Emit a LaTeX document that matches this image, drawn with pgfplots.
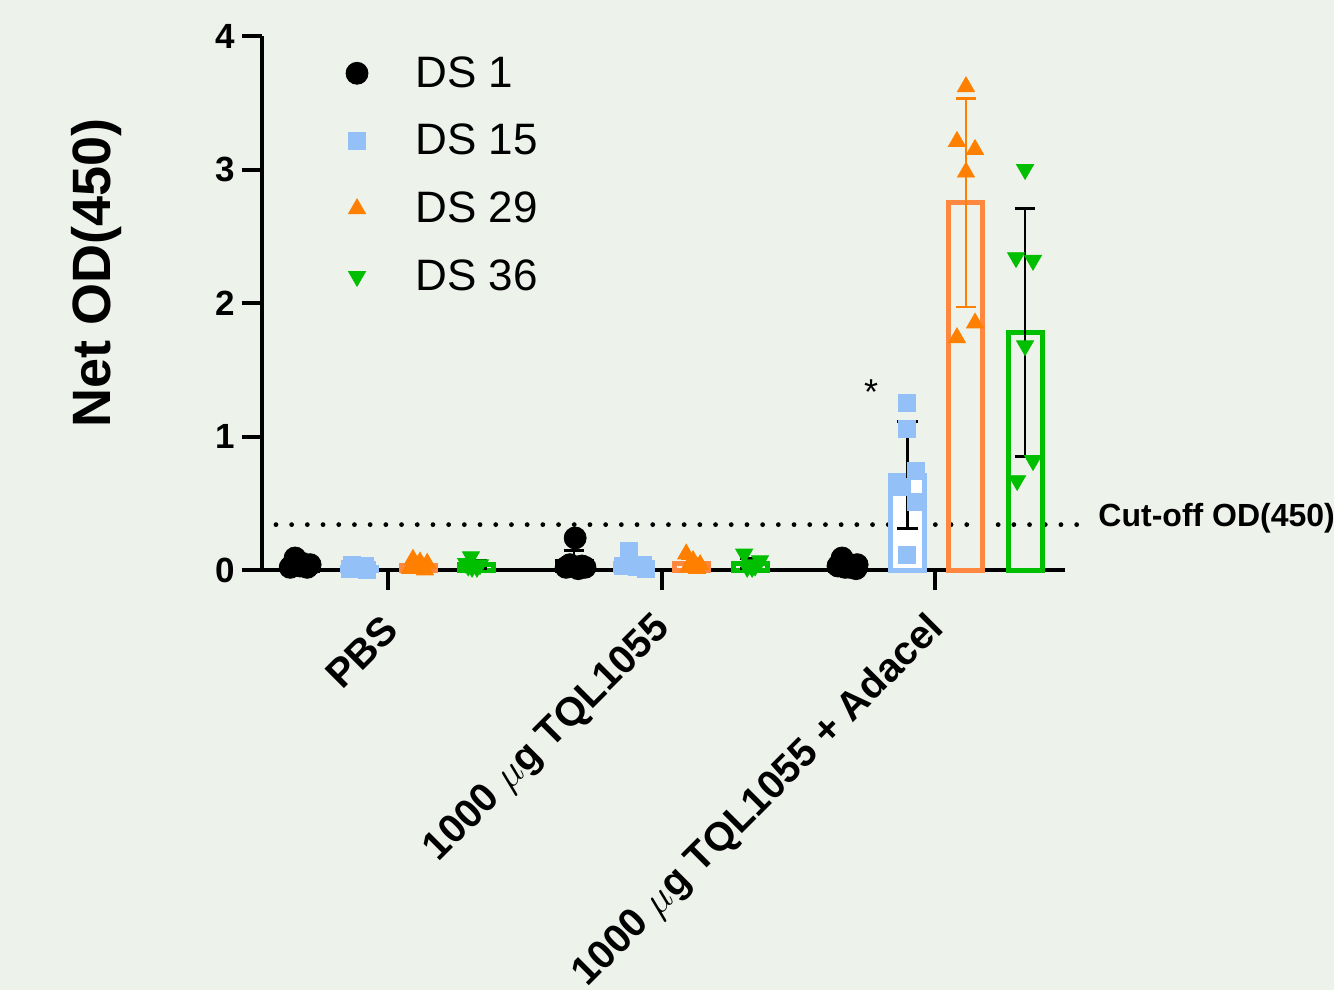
\documentclass[border=0pt]{standalone}
\usepackage{fontspec}
\setmainfont{Liberation Sans}
\usepackage{pgfplots}
\pgfplotsset{compat=1.18}

\definecolor{bgcol}{RGB}{237,242,234}
\definecolor{dsblue}{RGB}{148,192,248}
\definecolor{dsorange}{RGB}{255,128,0}
\definecolor{barorange}{RGB}{255,136,64}
\definecolor{dsgreen}{RGB}{0,190,0}

\pgfplotsset{
  errs/.style={
    error bars/.cd, y dir=both, y explicit,
    error bar style={line width=1.4pt, #1},
    error mark options={rotate=90, line width=1.4pt, mark size=5.2pt, #1}
  },
  barstyle/.style={ybar, bar shift=0pt, bar width=17pt, line width=2.5pt, forget plot}
}

\begin{document}
\begin{tikzpicture}
\fill[bgcol] (-131pt,-210pt) rectangle (536pt,285pt);
\useasboundingbox (-131pt,-210pt) rectangle (536pt,285pt);
\begin{axis}[
  at={(0pt,0pt)}, anchor=south west,
  scale only axis, width=401.5pt, height=267pt,
  xmin=0.539, xmax=3.475, ymin=0, ymax=4,
  clip=false,
  axis lines=left,
  axis line style={-, line width=2.3pt},
  tick align=outside,
  major tick length=10pt,
  tick style={line width=2pt, black},
  xtick={1,2,3},
  xticklabels={PBS, 1000 $\mu$g TQL1055, 1000 $\mu$g TQL1055 + Adacel},
  xticklabel style={xshift=4pt, yshift=-14pt, rotate=45, anchor=east, font=\bfseries\fontsize{20}{24}\selectfont},
  ytick={0,1,2,3,4},
  yticklabels={0,1,2,3,4},
  yticklabel style={font=\bfseries\fontsize{17.5}{21}\selectfont},
  ylabel={Net OD(450)},
  every axis y label/.style={at={(axis description cs:-0.2055,0.556)}, rotate=90, anchor=center, font=\bfseries\fontsize{27}{32}\selectfont},
  legend style={draw=none, fill=none, at={(rel axis cs:0.0775,0.9775)}, anchor=north west,
    font=\fontsize{22}{26}\selectfont, row sep=13pt},
  legend cell align=left,
  legend image code/.code={\path (0pt,0pt) (40pt,0pt); \draw[#1] plot coordinates {(13pt,0pt)};},
]
% cut-off line
\addplot[black, line width=2.4pt, dash pattern=on 0pt off 7.85pt, line cap=round, forget plot]
  coordinates {(0.59,0.34) (3.523,0.34)};

% bars: mean +- SD
\addplot[barstyle, draw=black, fill=none, errs=black] coordinates {
  (0.68,0.042) +- (0,0.026) (1.68,0.06) +- (0,0.089) (2.68,0.035) +- (0,0.029)};
\addplot[barstyle, draw=dsblue, fill=white, errs=black] coordinates {
  (0.895,0.02) +- (0,0.014) (1.895,0.045) +- (0,0.047) (2.90,0.71) +- (0,0.40)};
\addplot[barstyle, draw=barorange, fill=none, errs=dsorange] coordinates {
  (1.11,0.037) +- (0,0.03) (2.11,0.048) +- (0,0.04) (3.113,2.75) +- (0,0.78)};
\addplot[barstyle, draw=dsgreen, fill=none, errs=black] coordinates {
  (1.325,0.043) +- (0,0.03) (2.325,0.05) +- (0,0.038) (3.329,1.78) +- (0,0.93)};

% individual points
\addplot[only marks, mark=*, mark size=5.5pt, color=black, mark options={fill=black, draw=none}] coordinates {
  (0.660,0.09) (0.715,0.04) (0.642,0.02) (0.704,0.02) (0.678,0.03) (0.686,0.05)
  (1.684,0.24) (1.665,0.04) (1.709,0.03) (1.651,0.02) (1.695,0.01) (1.720,0.02)
  (2.660,0.09) (2.715,0.04) (2.645,0.03) (2.689,0.02) (2.711,0.01) (2.671,0.02)};
\addlegendentry{DS 1}
\addplot[only marks, mark=square*, mark size=4.25pt, color=dsblue, mark options={fill=dsblue, draw=none}] coordinates {
  (0.868,0.04) (0.861,0.01) (0.916,0.03) (0.923,0.00) (0.890,0.02) (0.898,0.02)
  (1.881,0.14) (1.932,0.04) (1.859,0.03) (1.910,0.02) (1.943,0.01) (1.885,0.03)
  (2.898,1.25) (2.898,1.06) (2.931,0.74) (2.879,0.62) (2.931,0.51) (2.898,0.11)};
\addlegendentry{DS 15}
\addplot[only marks, mark=triangle*, mark size=4.9pt, color=dsorange, mark options={fill=dsorange, draw=none}] coordinates {
  (1.091,0.08) (1.117,0.06) (1.143,0.05) (1.110,0.02) (1.080,0.01) (1.135,0.00)
  (2.090,0.12) (2.115,0.07) (2.141,0.04) (2.097,0.02) (2.130,0.01) (2.112,0.03)
  (3.113,3.62) (3.080,3.21) (3.146,3.15) (3.113,2.98) (3.146,1.85) (3.080,1.74)};
\addlegendentry{DS 29}
\addplot[only marks, mark=triangle*, mark size=4.9pt, color=dsgreen, mark options={fill=dsgreen, draw=none, rotate=180}] coordinates {
  (1.303,0.10) (1.285,0.05) (1.336,0.04) (1.307,0.02) (1.325,0.02) (1.293,0.03)
  (2.302,0.12) (2.360,0.07) (2.324,0.04) (2.342,0.03) (2.313,0.02) (2.331,0.02)
  (3.329,3.00) (3.296,2.34) (3.358,2.32) (3.329,1.68) (3.358,0.82) (3.300,0.67)};
\addlegendentry{DS 36}

\node[font=\fontsize{18}{20}\selectfont] at (axis cs:2.766,1.33) {*};
\node[anchor=west, inner sep=0pt, font=\bfseries\fontsize{16}{19}\selectfont] at (axis cs:3.596,0.39) {Cut-off OD(450)};
\end{axis}
\end{tikzpicture}
\end{document}
